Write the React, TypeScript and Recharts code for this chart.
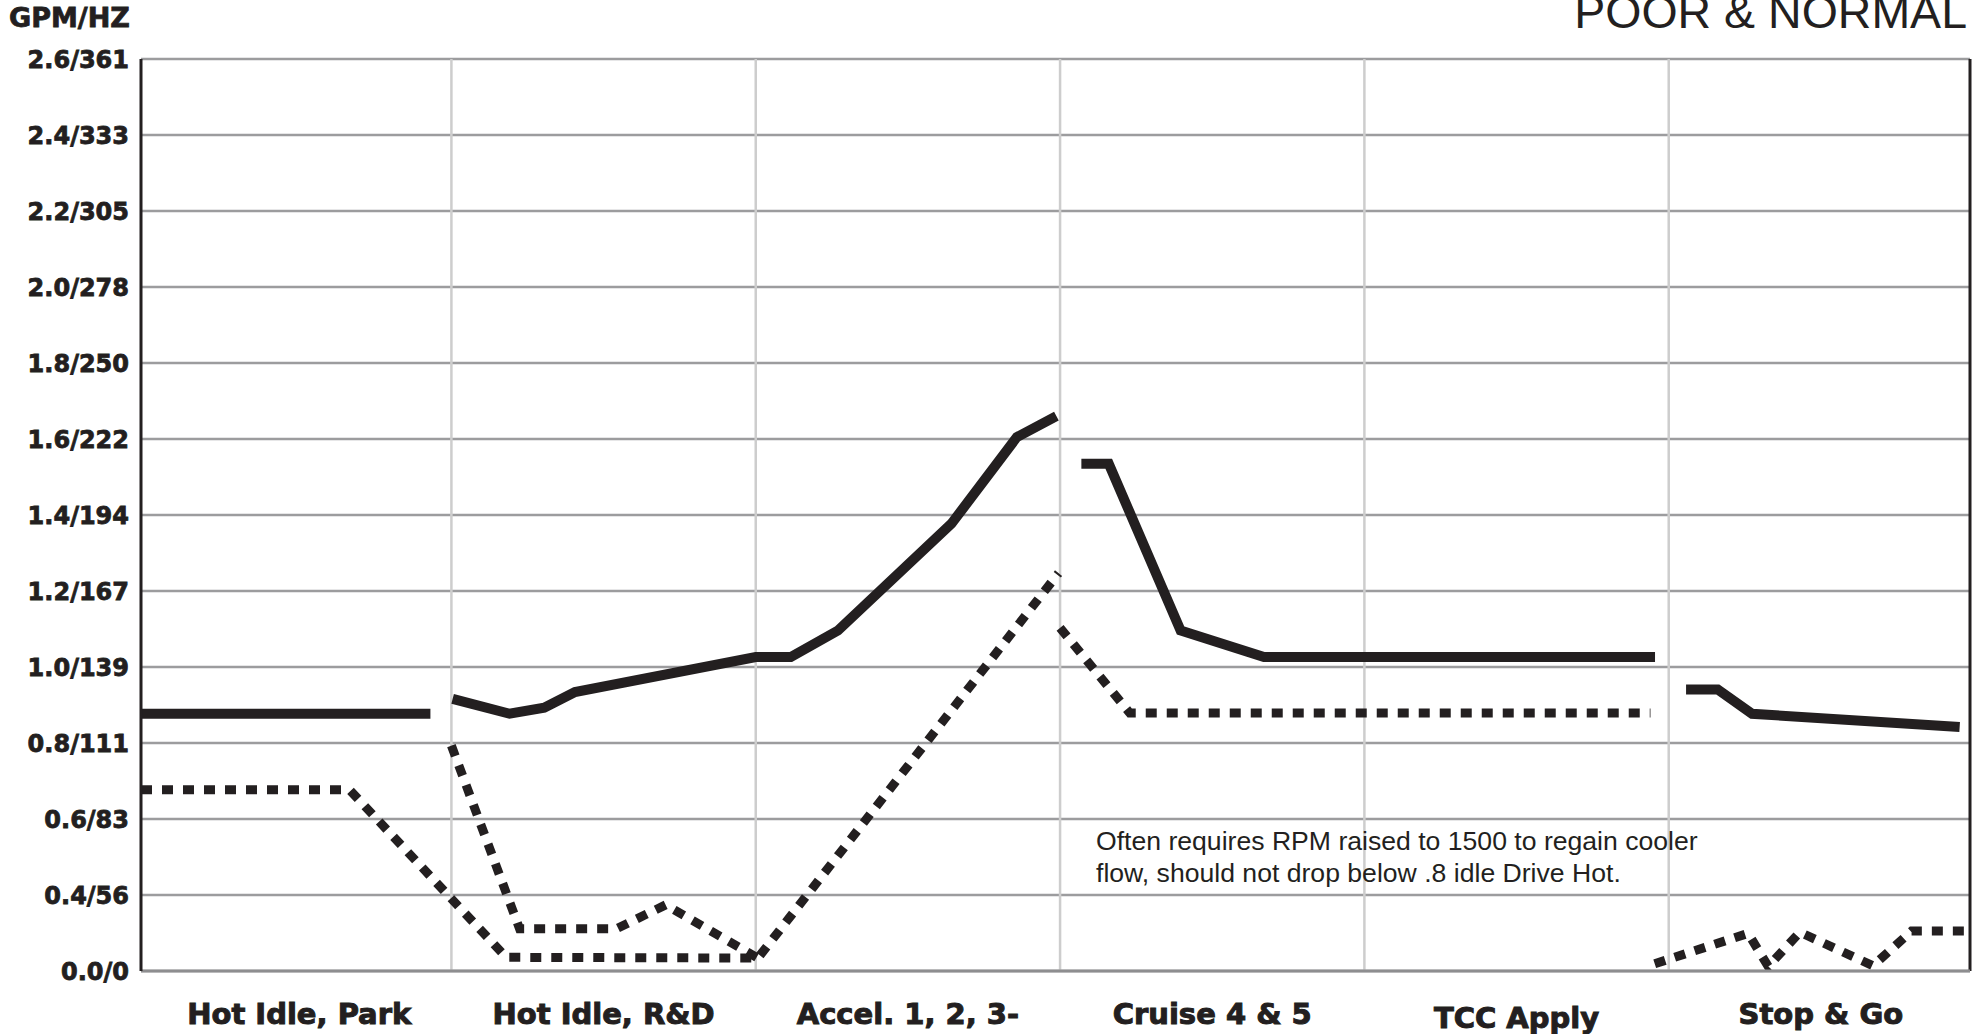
import React from 'react';
import { LineChart, Line, XAxis, YAxis, CartesianGrid, ReferenceLine } from 'recharts';

// Category labels (one band per driving condition)
const categories = ['Hot Idle, Park', 'Hot Idle, R&D', 'Accel. 1, 2, 3-', 'Cruise 4 & 5', 'TCC Apply', 'Stop & Go'];
const categoryCenters = [0.5, 1.5, 2.5, 3.5, 4.5, 5.5];
const categoryBounds = [1, 2, 3, 4, 5];

// Y axis ticks (the bottom tick is labelled 0.0/0 in the original)
const yTickValues = [0.2, 0.4, 0.6, 0.8, 1.0, 1.2, 1.4, 1.6, 1.8, 2.0, 2.2, 2.4, 2.6];
const yTickLabels = ['0.0/0', '0.4/56', '0.6/83', '0.8/111', '1.0/139', '1.2/167', '1.4/194', '1.6/222', '1.8/250', '2.0/278', '2.2/305', '2.4/333', '2.6/361'];

// Solid (normal) flow segments: x in category units, y in GPM
const parkSolid = [
  { x: -0.02, y: 0.877 },
  { x: 0.931, y: 0.877 },
];
const idleAccelSolid = [
  { x: 1.004, y: 0.916 },
  { x: 1.191, y: 0.877 },
  { x: 1.305, y: 0.893 },
  { x: 1.406, y: 0.934 },
  { x: 2.0, y: 1.026 },
  { x: 2.115, y: 1.026 },
  { x: 2.27, y: 1.096 },
  { x: 2.643, y: 1.377 },
  { x: 2.858, y: 1.605 },
  { x: 2.988, y: 1.66 },
];
const cruiseTccSolid = [
  { x: 3.07, y: 1.535 },
  { x: 3.16, y: 1.535 },
  { x: 3.396, y: 1.096 },
  { x: 3.67, y: 1.026 },
  { x: 4.955, y: 1.026 },
];
const stopGoSolid = [
  { x: 5.057, y: 0.941 },
  { x: 5.161, y: 0.941 },
  { x: 5.274, y: 0.877 },
  { x: 5.956, y: 0.842 },
];

// Dotted (poor) flow segments
const idleLowerDotted = [
  { x: -0.02, y: 0.677 },
  { x: 0.665, y: 0.677 },
  { x: 1.18, y: 0.236 },
  { x: 2.007, y: 0.234 },
  { x: 2.995, y: 1.247 },
];
const idleUpperDotted = [
  { x: 1.0, y: 0.793 },
  { x: 1.224, y: 0.311 },
  { x: 1.542, y: 0.311 },
  { x: 1.704, y: 0.374 },
  { x: 2.007, y: 0.234 },
];
const cruiseDotted = [
  { x: 3.0, y: 1.103 },
  { x: 3.229, y: 0.879 },
  { x: 4.94, y: 0.879 },
];
const stopGoDotted = [
  { x: 4.954, y: 0.219 },
  { x: 5.261, y: 0.299 },
  { x: 5.327, y: 0.212 },
  { x: 5.431, y: 0.302 },
  { x: 5.671, y: 0.214 },
  { x: 5.798, y: 0.305 },
  { x: 5.99, y: 0.305 },
];

const INK = '#231f20';
const solidSeries = [parkSolid, idleAccelSolid, cruiseTccSolid, stopGoSolid];
const dottedSeries = [idleLowerDotted, idleUpperDotted, cruiseDotted, stopGoDotted];

const XTick = (props: any) => {
  const { x, y, payload } = props;
  const i = Math.round(payload.value - 0.5);
  const label = categories[i] ?? '';
  const extra = label === 'TCC Apply' ? 4 : 0;
  return (
    <text
      x={x}
      y={y + 53 + extra}
      textAnchor="middle"
      fontFamily="DejaVu Sans"
      fontWeight="bold"
      fontSize={29}
      fill={INK}
      stroke={INK}
      strokeWidth={1}
    >
      {label}
    </text>
  );
};

const yFormat = (v: number) => {
  const i = Math.round((v - 0.2) / 0.2);
  return yTickLabels[i] ?? '';
};

export default function App() {
  return (
    <div style={{ position: 'absolute', left: 0, top: 0, width: 1976, height: 1034, background: '#fff', overflow: 'hidden' }}>
      <LineChart width={1976} height={1034} margin={{ top: 59, right: 6, bottom: 0, left: 0 }}>
        <CartesianGrid horizontal vertical={false} stroke="#9c9c9e" strokeWidth={2.5} />
        <CartesianGrid horizontal={false} vertical verticalValues={categoryBounds} stroke="#cdcdcd" strokeWidth={2.5} />
        <XAxis
          type="number"
          dataKey="x"
          domain={[-0.02, 5.99]}
          allowDataOverflow
          ticks={categoryCenters}
          interval={0}
          tick={<XTick />}
          tickLine={false}
          tickSize={0}
          tickMargin={0}
          height={63}
          axisLine={{ stroke: '#8e8e90', strokeWidth: 3 }}
        />
        <YAxis
          type="number"
          dataKey="y"
          domain={[0.2, 2.6]}
          allowDataOverflow
          ticks={yTickValues}
          interval={0}
          tickFormatter={yFormat}
          width={141}
          tickLine={false}
          tickSize={0}
          tickMargin={12}
          axisLine={{ stroke: INK, strokeWidth: 3 }}
          tick={{ fontFamily: 'DejaVu Sans', fontWeight: 'bold', fontSize: 24, fill: INK, stroke: INK, strokeWidth: 0.8 }}
        />
        <ReferenceLine x={5.99} stroke={INK} strokeWidth={3} />
        {dottedSeries.map((d, i) => (
          <Line
            key={'d' + i}
            data={d}
            dataKey="y"
            type="linear"
            stroke={INK}
            strokeWidth={9}
            strokeDasharray="11 10"
            dot={false}
            activeDot={false}
            isAnimationActive={false}
          />
        ))}
        {solidSeries.map((d, i) => (
          <Line
            key={'s' + i}
            data={d}
            dataKey="y"
            type="linear"
            stroke={INK}
            strokeWidth={10}
            dot={false}
            activeDot={false}
            isAnimationActive={false}
          />
        ))}
      </LineChart>
      <svg width={1976} height={1034} style={{ position: 'absolute', left: 0, top: 0, pointerEvents: 'none' }}>
        <text x={9} y={26.7} fontFamily="DejaVu Sans" fontWeight="bold" fontSize={27} fill={INK} stroke={INK} strokeWidth={0.8}>GPM/HZ</text>
        <text x={1967} y={28} textAnchor="end" fontFamily="Liberation Sans" fontSize={46.5} fill={INK}>POOR &amp; NORMAL</text>
        <text x={1096} y={850} fontFamily="Liberation Sans" fontSize={26.6} fill={INK}>Often requires RPM raised to 1500 to regain cooler</text>
        <text x={1096} y={881.5} fontFamily="Liberation Sans" fontSize={26.6} fill={INK}>flow, should not drop below .8 idle Drive Hot.</text>
      </svg>
    </div>
  );
}
